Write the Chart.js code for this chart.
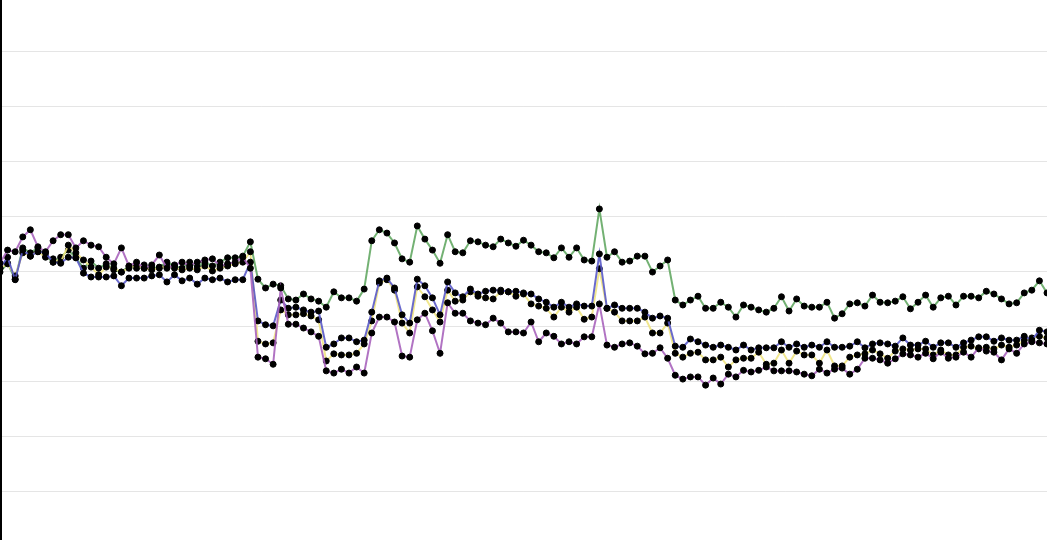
<!DOCTYPE html>
<html>
<head>
<meta charset="utf-8">
<script src="https://cdn.jsdelivr.net/npm/chart.js@4"></script>
<style>
  html, body { margin: 0; padding: 0; background: #fff; overflow: hidden; }
  #wrap { position: absolute; left: 0; top: -3px; width: 1047px; height: 549px; }
  #edge { position: absolute; left: 0; top: 0; width: 2px; height: 540px; background: #000; }
</style>
</head>
<body>
<div id="wrap"><canvas id="chart"></canvas></div>
<div id="edge"></div>
<script>
// values, one per step (139 steps)
const greenValues = [
  39.9, 41.5, 38.6, 44.3, 43.4, 44.3, 42.8, 41.7, 42.6, 43.9,
  42.5, 40.6, 41.9, 40.6, 41.4, 40.3, 39.9, 41.0, 40.6, 41.2,
  40.6, 40.8, 41.7, 41.0, 40.6, 41.7, 40.8, 41.7, 41.0, 41.7,
  42.5, 42.5, 42.8, 45.4, 38.6, 37.0, 37.7, 37.4, 35.0, 34.8,
  35.9, 35.0, 34.6, 33.5, 36.3, 35.2, 35.2, 34.6, 36.8, 45.6,
  47.6, 47.0, 45.2, 42.3, 41.7, 48.3, 45.9, 43.9, 41.5, 46.7,
  43.6, 43.4, 45.6, 45.4, 44.8, 44.5, 45.9, 45.2, 44.6, 45.7,
  44.8, 43.6, 43.4, 42.5, 44.3, 42.6, 44.3, 42.1, 41.9, 51.4,
  42.6, 43.6, 41.7, 41.9, 42.8, 42.8, 39.9, 41.0, 42.1, 34.8,
  33.9, 34.8, 35.5, 33.3, 33.3, 34.4, 33.5, 31.7, 33.9, 33.5,
  33.0, 32.6, 33.3, 35.4, 32.8, 35.0, 33.7, 33.5, 33.5, 34.4,
  31.5, 32.3, 34.1, 34.3, 33.7, 35.7, 34.4, 34.3, 34.6, 35.4,
  33.2, 34.4, 35.7, 33.5, 35.2, 35.5, 33.9, 35.5, 35.5, 35.2,
  36.4, 35.9, 35.0, 34.1, 34.3, 36.1, 36.6, 38.3, 36.1
];
const blueValues = [
  40.6, 42.6, 38.5, 43.9, 42.8, 43.6, 43.4, 41.7, 41.5, 42.6,
  42.5, 39.7, 39.0, 39.0, 39.0, 39.2, 37.4, 38.8, 38.8, 38.8,
  39.2, 39.4, 38.1, 39.4, 38.3, 38.8, 37.7, 38.8, 38.5, 38.8,
  38.1, 38.5, 38.5, 41.7, 31.0, 30.3, 30.1, 34.8, 33.3, 33.5,
  33.0, 32.6, 32.8, 26.2, 26.8, 27.9, 27.9, 27.2, 27.5, 32.6,
  38.3, 38.8, 37.0, 32.1, 30.6, 38.6, 37.4, 35.2, 32.1, 38.1,
  36.1, 35.4, 36.8, 35.9, 36.4, 36.6, 36.6, 36.3, 36.4, 36.1,
  35.9, 35.0, 34.4, 33.5, 34.4, 33.5, 34.1, 33.7, 33.7, 43.2,
  33.3, 33.9, 33.3, 33.3, 33.3, 32.6, 31.5, 31.9, 31.5, 26.4,
  26.2, 27.7, 27.2, 26.6, 26.2, 26.6, 26.2, 25.7, 26.6, 25.7,
  26.1, 26.1, 26.1, 27.2, 26.2, 26.8, 26.2, 26.6, 26.2, 27.2,
  26.2, 26.2, 26.4, 27.2, 26.1, 26.8, 27.0, 26.8, 26.4, 27.9,
  26.6, 26.6, 27.3, 26.2, 27.0, 27.0, 26.2, 27.0, 27.5, 28.1,
  28.1, 27.3, 27.9, 27.5, 27.5, 28.2, 27.5, 29.3, 29.0
];
const yellowValues = [
  40.6, 41.4, 39.2, 43.4, 42.8, 43.6, 42.6, 42.3, 41.7, 44.8,
  43.4, 42.1, 40.8, 39.4, 40.8, 40.6, 39.9, 40.6, 41.2, 40.6,
  40.3, 40.6, 41.0, 40.6, 40.3, 40.6, 40.3, 41.0, 40.1, 40.6,
  41.0, 41.4, 41.7, 43.6, 27.3, 26.8, 27.0, 33.0, 32.1, 32.1,
  32.3, 31.9, 31.2, 23.7, 25.0, 24.8, 24.8, 25.1, 26.8, 31.0,
  37.9, 38.5, 36.6, 30.6, 28.8, 37.2, 35.4, 33.0, 30.8, 36.6,
  34.6, 34.8, 36.3, 35.5, 35.2, 35.0, 36.3, 36.3, 35.5, 35.9,
  34.1, 33.7, 33.3, 31.7, 33.5, 32.6, 33.5, 31.3, 31.7, 40.5,
  33.3, 32.6, 31.0, 31.0, 31.0, 31.7, 28.8, 28.8, 30.6, 25.1,
  24.4, 25.1, 25.3, 23.9, 23.9, 24.4, 22.6, 23.9, 24.2, 24.2,
  25.3, 23.1, 23.3, 25.7, 23.3, 25.5, 24.8, 24.8, 23.3, 25.7,
  22.8, 22.8, 24.4, 24.8, 25.0, 25.7, 25.0, 24.2, 25.5, 25.9,
  25.7, 25.9, 25.9, 24.8, 25.7, 24.8, 24.8, 26.2, 26.4, 25.9,
  26.2, 25.9, 26.6, 26.2, 26.6, 27.5, 27.9, 28.2, 27.9
];
const purpleValues = [
  41.5, 43.9, 43.6, 46.3, 47.6, 44.5, 43.6, 45.6, 46.7, 46.7,
  44.3, 45.6, 44.8, 44.5, 42.6, 41.4, 44.3, 41.0, 41.7, 40.6,
  41.2, 43.0, 40.6, 41.2, 41.7, 41.0, 41.7, 42.1, 42.3, 41.0,
  41.4, 41.7, 42.6, 40.6, 24.4, 24.1, 23.1, 37.0, 30.4, 30.4,
  29.7, 29.0, 28.2, 21.9, 21.5, 22.2, 21.5, 22.6, 21.5, 28.8,
  31.7, 31.7, 30.8, 24.6, 24.4, 31.2, 32.4, 29.2, 25.1, 34.3,
  32.4, 32.4, 31.0, 30.6, 30.3, 31.5, 30.6, 29.0, 29.0, 28.8,
  30.8, 27.2, 28.8, 28.2, 26.8, 27.2, 26.8, 28.1, 28.1, 34.1,
  26.6, 26.2, 26.8, 27.0, 26.4, 25.0, 25.1, 26.1, 24.2, 21.1,
  20.4, 20.8, 20.8, 19.3, 20.6, 19.5, 21.3, 20.8, 22.0, 21.7,
  22.0, 22.6, 21.9, 21.9, 21.9, 21.7, 21.3, 21.0, 22.2, 21.5,
  22.2, 22.4, 21.3, 22.2, 24.2, 24.2, 23.9, 23.3, 24.1, 25.0,
  24.8, 24.4, 25.1, 24.1, 25.3, 24.2, 24.4, 25.3, 24.4, 26.1,
  25.5, 25.3, 23.9, 25.9, 25.1, 26.8, 27.2, 27.0, 26.8
];
const labels = greenValues.map((v, i) => String(i + 1));

function series(label, data, color) {
  return {
    label: label,
    data: data,
    borderColor: color,
    borderWidth: 2,
    tension: 0,
    pointRadius: 3,
    pointBorderWidth: 1,
    pointBackgroundColor: '#000000',
    pointBorderColor: '#000000'
  };
}

const ctx = document.getElementById('chart').getContext('2d');
const chart = new Chart(ctx, {
  type: 'line',
  data: {
    labels: labels,
    datasets: [
      series('Purple', purpleValues, 'rgba(168, 100, 188, 0.9)'),
      series('Blue', blueValues, 'rgba(90, 90, 200, 0.9)'),
      series('Yellow', yellowValues, 'rgba(240, 228, 130, 0.9)'),
      series('Green', greenValues, 'rgba(100, 168, 100, 0.9)')
    ]
  },
  options: {
    responsive: true,
    maintainAspectRatio: false,
    animation: false,
    layout: { padding: 0, autoPadding: false },
    plugins: { legend: { display: false }, tooltip: { enabled: false } },
    scales: {
      x: { display: false, offset: false },
      y: {
        min: -10,
        max: 90,
        ticks: { display: false, stepSize: 10 },
        border: { display: false },
        grid: { drawTicks: false, color: 'rgba(0,0,0,0.1)' }
      }
    }
  }
});
</script>
</body>
</html>
